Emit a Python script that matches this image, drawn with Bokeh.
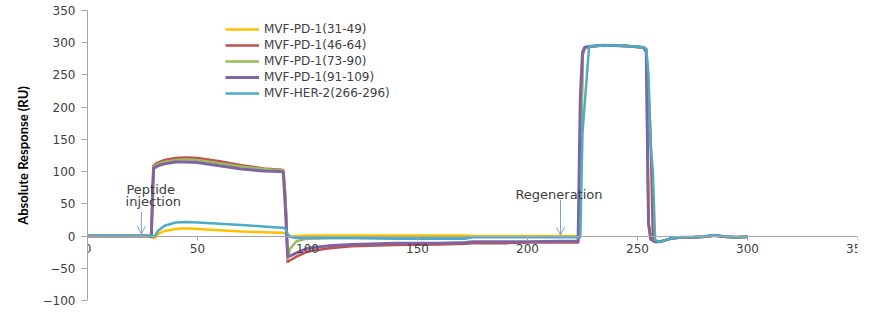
from bokeh.plotting import figure
from bokeh.models import (LinearAxis, Range1d, Legend, LegendItem, Label, Arrow,
                          OpenHead, FixedTicker)
from bokeh.embed import file_html
from bokeh.resources import INLINE

# ---- data ----
t_s = [0, 10, 20, 28, 29, 29.5, 30, 31, 32, 35, 40, 45, 50, 60, 70, 80, 88, 89, 90, 91,
       92, 95, 100, 110, 120, 140, 160, 172, 175, 190, 200, 215, 222, 223, 224,
       225, 226, 228, 235, 245, 252, 253, 254, 255, 256, 257, 258, 260, 265, 270,
       275, 280, 285, 290, 295, 300]

pd1_31_49 = [0, 0, 0, 0, -1, -2, -3, -2, 3, 8, 11, 12, 11, 9, 7, 6, 5, 5, 4, 1,
             -1, 0, 1, 1, 1, 1, 1, 1, 0, 0, 0, 0, 0, 0, 40,
             280, 292, 294, 296, 295, 293, 292, 286, 20, -4, -6, -8, -9, -4, -2,
             -2, -1, 1, -1, -2, -1]
pd1_46_64 = [0, 0, 0, 0, 0, 60, 109, 112, 114, 118, 121, 122, 121, 116, 110, 105, 103, 102, 60, -40,
             -38, -32, -24, -19, -16, -14, -13, -12, -11, -11, -10, -10, -10, -10, 50,
             280, 292, 294, 296, 295, 293, 292, 290, 230, 150, -5, -8, -9, -4, -2,
             -2, -1, 1, -1, -2, -1]
pd1_73_90 = [0, 0, 0, 0, 0, 60, 107, 110, 112, 115, 118, 119, 118, 113, 108, 104, 102, 101, 60, -36,
             -20, -8, -4, -3, -3, -3, -3, -3, -1, -1, -1, -1, -1, -2, 60,
             282, 292, 294, 296, 295, 293, 292, 286, 20, -4, -6, -8, -9, -4, -2,
             -2, -1, 1, -1, -2, -1]
pd1_91_109 = [0, 0, 0, 0, -1, 50, 105, 107, 109, 112, 115, 115, 114, 109, 104, 101, 100, 99, 40, -32,
              -31, -26, -19, -15, -13, -11, -11, -10, -9, -9, -9, -8, -8, -8, 215,
              285, 293, 294, 296, 295, 293, 292, 285, 20, -5, -7, -9, -9, -4, -2,
              -2, -1, 1, -1, -2, -1]
her2_266_296 = [0, 0, 0, 0, 0, 0, -1, 2, 8, 16, 21, 22, 21, 19, 17, 15, 13, 13, 11, 3,
                -1, -3, -3, -3, -3, -4, -4, -4, -2, -2, -2, -2, -2, -2, -2,
                160, 205, 294, 296, 295, 293, 292, 290, 250, 140, 100, -6, -9, -4, -2,
                -2, -1, 1.5, -1, -2, -1]

series_names = ["MVF-PD-1(31-49)", "MVF-PD-1(46-64)", "MVF-PD-1(73-90)",
                "MVF-PD-1(91-109)", "MVF-HER-2(266-296)"]
series_values = [pd1_31_49, pd1_46_64, pd1_73_90, pd1_91_109, her2_266_296]
series_colors = ["#FFC000", "#C0504D", "#9BBB59", "#8064A2", "#4BACC6"]
series_widths = [2.5, 2.5, 2.5, 3, 2.5]

x_ticks = [0, 50, 100, 150, 200, 250, 300, 350]
y_ticks = [-100, -50, 0, 50, 100, 150, 200, 250, 300, 350]

TICK_FONT = "DejaVu Sans"
TEXT_COLOR = "#404040"

p = figure(width=869, height=322, output_backend="svg", toolbar_location=None,
           x_range=Range1d(0, 350), y_range=Range1d(-100, 350),
           x_axis_location=None, y_axis_location="left",
           min_border_left=87, min_border_right=12, min_border_top=10, min_border_bottom=22)
p.outline_line_color = None
p.grid.visible = False
p.background_fill_color = "white"
p.border_fill_color = "white"

# y axis
ya = p.yaxis[0]
ya.ticker = FixedTicker(ticks=y_ticks)
ya.axis_line_color = "#A6A6A6"
ya.major_tick_line_color = "#A6A6A6"
ya.major_tick_out = 6
ya.major_tick_in = 0
ya.minor_tick_line_color = None
ya.major_label_text_font = TICK_FONT
ya.major_label_text_font_size = "12px"
ya.major_label_text_color = TEXT_COLOR
ya.major_label_standoff = 6
ya.axis_label = "Absolute Response (RU)"
ya.axis_label_text_font = "Lato"
ya.axis_label_text_font_size = "13px"
ya.axis_label_text_font_style = "bold"
ya.axis_label_text_color = "#000000"
ya.axis_label_standoff = 9

# x axis at y = 0
xa = LinearAxis(fixed_location=0, ticker=FixedTicker(ticks=x_ticks))
xa.axis_line_color = "#A6A6A6"
xa.major_tick_line_color = "#A6A6A6"
xa.major_tick_out = 4
xa.major_tick_in = 0
xa.minor_tick_line_color = None
xa.major_label_text_font = TICK_FONT
xa.major_label_text_font_size = "12px"
xa.major_label_text_color = TEXT_COLOR
xa.major_label_standoff = 4
p.add_layout(xa, "below")

items = []
for name, vals, col, lw in zip(series_names, series_values, series_colors, series_widths):
    r = p.line(t_s, vals, line_color=col, line_width=lw, line_join="round")
    items.append(LegendItem(label=name, renderers=[r]))

legend = Legend(items=items, location=(138, 199), orientation="vertical",
                label_text_font=TICK_FONT, label_text_font_size="12px",
                label_text_color=TEXT_COLOR, glyph_width=34, glyph_height=16,
                label_height=16, label_standoff=5, spacing=0, padding=0, margin=0,
                border_line_color=None, background_fill_alpha=0)
p.add_layout(legend, "center")

# annotations
ann_kw = dict(text_font=TICK_FONT, text_font_size="13px", text_color=TEXT_COLOR,
              text_baseline="middle", text_align="left")
p.add_layout(Label(x=17.7, y=73, text="Peptide", **ann_kw))
p.add_layout(Label(x=17.3, y=53, text="injection", **ann_kw))
p.add_layout(Label(x=194.5, y=65, text="Regeneration", **ann_kw))
arrow_col = "#7DA1D4"
p.add_layout(Arrow(end=OpenHead(size=8, line_color=arrow_col, line_width=1),
                   x_start=24.5, y_start=38, x_end=24.5, y_end=3,
                   line_color=arrow_col, line_width=1))
p.add_layout(Arrow(end=OpenHead(size=8, line_color=arrow_col, line_width=1),
                   x_start=215, y_start=56, x_end=215, y_end=1.5,
                   line_color=arrow_col, line_width=1))

# x-axis title below the plotting area
p.add_layout(Label(x=174, y=-100, y_offset=-11, text="Time (s)", text_font=TICK_FONT,
                   text_font_size="14px", text_font_style="bold", text_color="#000000",
                   text_align="center", text_baseline="middle"))

open("out.html", "w").write(file_html(p, INLINE))
